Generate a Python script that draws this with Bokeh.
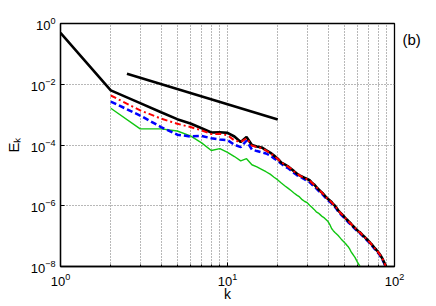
import numpy as np
from bokeh.plotting import figure
from bokeh.models import FixedTicker, Range1d, LogAxis
from bokeh.embed import file_html
from bokeh.resources import INLINE

# ---- data (log10 of E_k) ----
k_black = list(range(1, 91))
log10_E_black = [-0.31, -2.20, -2.62, -2.92, -3.15, -3.29, -3.45, -3.59, -3.58, -3.60,
                 -3.72, -3.90, -3.74, -4.00, -4.05, -4.08, -4.17, -4.25, -4.35, -4.45,
                 -4.58, -4.64, -4.70, -4.78, -4.86, -4.94, -5.00, -5.04, -5.08, -5.12,
                 -5.16, -5.24, -5.30, -5.38, -5.45, -5.52, -5.58, -5.65, -5.72, -5.78,
                 -5.83, -5.88, -5.95, -6.00, -6.07, -6.15, -6.21, -6.26, -6.31, -6.36,
                 -6.42, -6.46, -6.51, -6.55, -6.60, -6.65, -6.69, -6.73, -6.77, -6.81,
                 -6.85, -6.87, -6.91, -6.95, -6.99, -7.02, -7.06, -7.09, -7.13, -7.16,
                 -7.20, -7.24, -7.27, -7.31, -7.35, -7.39, -7.42, -7.46, -7.49, -7.53,
                 -7.57, -7.61, -7.66, -7.71, -7.76, -7.82, -7.88, -7.95, -8.03, -8.10]

k_red = list(range(2, 91))
log10_E_red = [-2.37, -2.86, -3.13, -3.30, -3.41, -3.52, -3.64, -3.63, -3.68,
               -3.85, -3.90, -3.78, -4.02, -4.07, -4.10, -4.18, -4.27, -4.36, -4.46,
               -4.57, -4.64, -4.71, -4.78, -4.87, -4.93, -5.00, -5.05, -5.08, -5.13,
               -5.17, -5.24, -5.31, -5.38, -5.46, -5.52, -5.59, -5.65, -5.72, -5.79,
               -5.83, -5.89, -5.95, -6.01, -6.07, -6.15, -6.21, -6.27, -6.31, -6.37,
               -6.42, -6.47, -6.51, -6.56, -6.60, -6.65, -6.70, -6.73, -6.78, -6.81,
               -6.85, -6.88, -6.91, -6.96, -6.99, -7.03, -7.06, -7.10, -7.13, -7.17,
               -7.20, -7.24, -7.28, -7.31, -7.35, -7.40, -7.42, -7.47, -7.49, -7.54,
               -7.57, -7.62, -7.66, -7.72, -7.76, -7.83, -7.88, -7.96, -8.03, -8.11]

k_blue = list(range(2, 91))
log10_E_blue = [-2.57, -3.03, -3.41, -3.66, -3.72, -3.70, -3.78, -3.82, -3.84,
                -3.99, -4.07, -3.86, -4.15, -4.20, -4.24, -4.28, -4.35, -4.44, -4.52,
                -4.62, -4.70, -4.76, -4.84, -4.92, -4.99, -5.04, -5.08, -5.13, -5.18,
                -5.22, -5.30, -5.36, -5.43, -5.50, -5.56, -5.62, -5.69, -5.76, -5.82,
                -5.87, -5.92, -5.99, -6.04, -6.11, -6.19, -6.25, -6.30, -6.35, -6.40,
                -6.45, -6.50, -6.55, -6.59, -6.64, -6.68, -6.72, -6.76, -6.80, -6.84,
                -6.88, -6.90, -6.94, -6.98, -7.02, -7.05, -7.09, -7.12, -7.16, -7.19,
                -7.23, -7.27, -7.30, -7.34, -7.38, -7.42, -7.45, -7.49, -7.52, -7.56,
                -7.60, -7.64, -7.69, -7.74, -7.79, -7.85, -7.91, -7.98, -8.06, -8.13]

k_green = list(range(2, 65))
log10_E_green = [-2.79, -3.47, -3.47, -3.54, -3.70, -3.93, -4.18, -4.12, -4.24,
                 -4.38, -4.52, -4.45, -4.65, -4.72, -4.80, -4.88, -4.96, -5.06, -5.15,
                 -5.25, -5.34, -5.42, -5.50, -5.58, -5.65, -5.71, -5.80, -5.86, -5.90,
                 -5.98, -6.05, -6.12, -6.20, -6.24, -6.30, -6.36, -6.40, -6.46, -6.52,
                 -6.62, -6.75, -6.82, -6.88, -6.93, -6.98, -7.04, -7.10, -7.15, -7.20,
                 -7.25, -7.31, -7.36, -7.43, -7.52, -7.58, -7.64, -7.70, -7.78, -7.86,
                 -7.92, -7.99, -8.06, -8.12]

k_ref = [2.5, 20.0]
E_ref = [2.2e-2, 6.9e-4]

x_major = [1, 10, 100]
x_minor = [2, 3, 4, 5, 6, 7, 8, 9, 20, 30, 40, 50, 60, 70, 80, 90]
y_major = [1e-8, 1e-6, 1e-4, 1e-2, 1]
panel_tag = "(b)"
panel_tag_at = 0.3

FONT = "Liberation Sans"

p = figure(x_axis_type="log", y_axis_type="log",
           x_range=Range1d(1, 100), y_range=Range1d(1e-8, 1),
           frame_width=334, frame_height=243,
           min_border_left=60, min_border_top=23, min_border_right=40, min_border_bottom=30,
           output_backend="svg", toolbar_location=None)

p.background_fill_color = "white"
p.border_fill_color = "white"
p.outline_line_color = "black"
p.outline_line_width = 1.3

p.xaxis.ticker = FixedTicker(ticks=x_major, minor_ticks=x_minor)
p.yaxis.ticker = FixedTicker(ticks=y_major, minor_ticks=[])

for ax in (p.xaxis, p.yaxis):
    ax.axis_line_color = "black"
    ax.axis_line_width = 1.3
    ax.major_tick_in = 4
    ax.major_tick_out = 0
    ax.minor_tick_in = 2
    ax.minor_tick_out = 0
    ax.major_tick_line_color = "black"
    ax.minor_tick_line_color = "black"
    ax.major_label_text_font = FONT
    ax.major_label_text_font_size = "13px"
    ax.major_label_text_color = "black"
    ax.axis_label_text_color = "black"

p.xaxis.major_label_standoff = 6
p.yaxis.major_label_standoff = 5
p.xaxis.axis_label = "k"
p.xaxis.axis_label_text_font = FONT
p.xaxis.axis_label_text_font_size = "14px"
p.xaxis.axis_label_text_font_style = "normal"
p.xaxis.axis_label_standoff = -3

p.yaxis.axis_label = "E\u2096"
p.yaxis.axis_label_text_font = FONT
p.yaxis.axis_label_text_font_size = "15px"
p.yaxis.axis_label_text_font_style = "normal"
p.yaxis.axis_label_standoff = 6

# panel tag "(b)" drawn as a tick label of a bare right-hand axis
tag_axis = LogAxis(ticker=FixedTicker(ticks=[panel_tag_at], minor_ticks=[]),
                   major_label_overrides={panel_tag_at: panel_tag},
                   axis_line_color=None, major_tick_line_color=None,
                   minor_tick_line_color=None, major_tick_in=0, major_tick_out=0,
                   major_label_standoff=8, major_label_text_font=FONT,
                   major_label_text_font_size="15px", major_label_text_color="black")
p.add_layout(tag_axis, "right")

p.xgrid.grid_line_color = "#707070"
p.xgrid.grid_line_dash = "1 2"
p.xgrid.minor_grid_line_color = "#707070"
p.xgrid.minor_grid_line_dash = "1 2"
p.ygrid.grid_line_color = "#707070"
p.ygrid.grid_line_dash = "1 2"

E_black = np.power(10.0, log10_E_black)
E_red = np.power(10.0, log10_E_red)
E_blue = np.power(10.0, log10_E_blue)
E_green = np.power(10.0, log10_E_green)

p.line(k_green, E_green, line_color="#11c611", line_width=1.4)
p.line(k_blue, E_blue, line_color="#0000ff", line_width=2.5, line_dash="6 3")
p.line(k_black, E_black, line_color="black", line_width=2.6)
p.line(k_red, E_red, line_color="#ff0000", line_width=2.0, line_dash="6 3 2 3")
p.line(k_ref, E_ref, line_color="black", line_width=2.6)

open("out.html", "w").write(file_html(p, INLINE))
